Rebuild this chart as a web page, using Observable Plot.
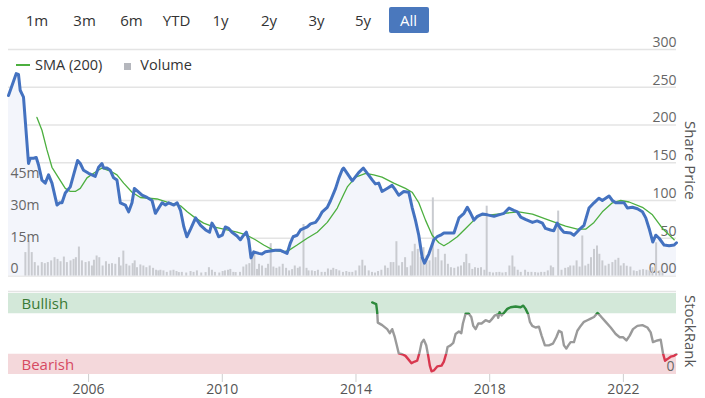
<!DOCTYPE html>
<html><head><meta charset="utf-8">
<script src="https://cdn.jsdelivr.net/npm/d3@7"></script>
<script src="https://cdn.jsdelivr.net/npm/@observablehq/plot@0.6"></script>
<style>
body{margin:0;background:#fff;font-family:"Open Sans",sans-serif;}
#wrap{position:relative;width:705px;height:398px;overflow:hidden;background:#fff;}
#wrap svg{position:absolute;left:0;top:0;}
.btn{position:absolute;top:7px;height:26px;line-height:26px;font-size:15px;color:#333;transform:translateX(-50%);text-align:center;white-space:nowrap;}
.btn.active{background:#4a78bd;color:#fff;border-radius:2px;width:40px;}
.leg{position:absolute;top:55px;font-size:14.5px;color:#333;white-space:nowrap;line-height:20px;}
.side{position:absolute;writing-mode:vertical-rl;font-size:15px;color:#555;white-space:nowrap;}
</style></head>
<body><div id="wrap"></div>
<script>
// ---- data ----
const rangeButtons = ["1m","3m","6m","YTD","1y","2y","3y","5y","All"];
const activeButton = "All";

const priceYear = [2003.605,2003.835,2003.904,2003.955,2004.054,2004.204,2004.254,2004.353,2004.434,2004.503,2004.605,2004.704,2004.802,2004.904,2005.054,2005.132,2005.204,2005.302,2005.452,2005.551,2005.671,2005.751,2005.850,2006.000,2006.200,2006.300,2006.400,2006.450,2006.550,2006.650,2006.750,2006.850,2006.950,2007.100,2007.200,2007.300,2007.370,2007.500,2007.600,2007.750,2007.900,2008.000,2008.100,2008.200,2008.300,2008.400,2008.550,2008.650,2008.750,2008.850,2008.940,2009.050,2009.200,2009.350,2009.500,2009.620,2009.690,2009.790,2009.890,2010.000,2010.090,2010.190,2010.290,2010.440,2010.540,2010.640,2010.720,2010.790,2010.860,2010.940,2011.090,2011.190,2011.290,2011.440,2011.590,2011.740,2011.840,2011.940,2012.040,2012.120,2012.240,2012.340,2012.440,2012.540,2012.640,2012.790,2012.890,2012.990,2013.140,2013.240,2013.390,2013.490,2013.590,2013.630,2013.890,2014.080,2014.220,2014.340,2014.490,2014.580,2014.680,2014.780,2014.930,2015.080,2015.180,2015.280,2015.430,2015.580,2015.680,2015.780,2015.880,2015.980,2016.050,2016.180,2016.330,2016.430,2016.530,2016.630,2016.930,2017.080,2017.230,2017.330,2017.430,2017.530,2017.630,2017.780,2017.930,2018.130,2018.270,2018.430,2018.580,2018.720,2018.830,2018.930,2019.070,2019.280,2019.420,2019.580,2019.670,2019.820,2019.920,2020.020,2020.120,2020.220,2020.420,2020.520,2020.670,2020.820,2020.970,2021.120,2021.270,2021.370,2021.470,2021.570,2021.670,2021.770,2021.920,2022.020,2022.120,2022.270,2022.420,2022.570,2022.670,2022.770,2022.880,2022.970,2023.070,2023.220,2023.370,2023.520,2023.590];
const priceValue = [239,268,267,246,237,149,156,156,157,147,127,123,134,123,94,97,97,110,118,134,153,149,140,136,132,144,149,143,143,140,130,127,97,94,85,97,116,111,107,104,100,83,90,97,94,97,94,97,87,65,52,62,77,67,61,58,70,63,52,54,65,63,58,53,48,54,58,48,24,32,30,29,32,33,34,34,32,30,44,52,54,61,63,65,69,71,77,85,91,100,116,130,141,143,126,137,143,136,127,122,123,112,116,120,114,107,112,111,91,74,54,25,17,29,48,52,54,57,57,77,83,91,83,74,79,82,81,79,81,83,90,87,85,78,75,71,73,70,63,61,60,70,63,58,57,54,61,67,90,97,103,100,103,106,100,97,97,97,90,91,89,85,77,63,45,54,50,41,40,41,44];

const smaYear = [2004.455,2004.605,2004.754,2004.904,2005.102,2005.302,2005.452,2005.602,2005.751,2005.952,2006.150,2006.400,2006.650,2006.850,2007.050,2007.300,2007.550,2007.800,2008.050,2008.350,2008.600,2008.750,2008.950,2009.190,2009.440,2009.740,2010.040,2010.440,2010.740,2010.990,2011.240,2011.540,2011.840,2011.990,2012.240,2012.540,2012.840,2013.140,2013.440,2013.630,2013.740,2013.990,2014.290,2014.530,2014.780,2015.130,2015.480,2015.680,2015.880,2016.080,2016.280,2016.480,2016.630,2016.780,2017.030,2017.280,2017.530,2017.730,2018.030,2018.430,2018.870,2019.280,2019.770,2020.270,2020.620,2020.870,2021.120,2021.370,2021.670,2021.920,2022.170,2022.570,2022.870,2023.170,2023.520];
const smaValue = [210,193,167,144,130,116,112,112,116,130,136,143,139,134,123,111,104,103,102,98,95,93,85,77,70,65,62,58,54,48,41,34,32,34,41,50,58,71,90,108,118,131,136,134,131,123,116,111,97,74,54,44,40,44,52,63,74,81,81,83,85,82,74,66,62,62,71,85,97,100,98,91,81,63,48];

const volumeYear = [2004.11,2004.21,2004.30,2004.39,2004.49,2004.60,2004.69,2004.78,2004.88,2004.98,2005.07,2005.16,2005.26,2005.35,2005.46,2005.55,2005.62,2005.71,2005.80,2005.91,2006.01,2006.10,2006.16,2006.24,2006.32,2006.42,2006.52,2006.61,2006.70,2006.80,2006.91,2006.96,2007.04,2007.13,2007.22,2007.32,2007.38,2007.45,2007.55,2007.64,2007.73,2007.83,2007.93,2008.02,2008.09,2008.15,2008.24,2008.34,2008.45,2008.54,2008.63,2008.70,2008.79,2008.92,2009.05,2009.14,2009.24,2009.37,2009.50,2009.60,2009.69,2009.78,2009.91,2010.01,2010.08,2010.17,2010.24,2010.33,2010.40,2010.53,2010.63,2010.72,2010.81,2010.89,2010.96,2011.04,2011.10,2011.19,2011.30,2011.37,2011.45,2011.53,2011.62,2011.71,2011.81,2011.91,2012.00,2012.09,2012.17,2012.26,2012.32,2012.43,2012.52,2012.58,2012.68,2012.77,2012.86,2012.97,2013.07,2013.16,2013.25,2013.32,2013.41,2013.50,2013.61,2013.71,2013.80,2013.89,2013.99,2014.10,2014.19,2014.27,2014.38,2014.48,2014.57,2014.66,2014.76,2014.87,2014.95,2015.04,2015.12,2015.21,2015.28,2015.38,2015.47,2015.53,2015.64,2015.69,2015.76,2015.85,2015.94,2016.02,2016.11,2016.20,2016.30,2016.38,2016.46,2016.56,2016.66,2016.75,2016.84,2016.94,2017.05,2017.14,2017.23,2017.30,2017.39,2017.48,2017.56,2017.65,2017.74,2017.84,2017.91,2018.00,2018.10,2018.20,2018.29,2018.38,2018.48,2018.59,2018.68,2018.74,2018.84,2018.93,2019.06,2019.15,2019.25,2019.36,2019.45,2019.54,2019.64,2019.74,2019.83,2019.90,2020.05,2020.15,2020.26,2020.35,2020.41,2020.51,2020.60,2020.69,2020.77,2020.86,2020.95,2021.03,2021.12,2021.21,2021.28,2021.37,2021.46,2021.56,2021.67,2021.76,2021.85,2021.92,2022.01,2022.10,2022.21,2022.31,2022.40,2022.49,2022.59,2022.69,2022.78,2022.87,2022.98,2023.08,2023.17];
const volumeM = [11.0,16.4,11.0,6.3,4.7,6.3,5.8,6.3,7.1,8.6,7.8,6.7,8.9,6.3,7.1,7.8,8.6,13.6,7.1,6.3,6.7,4.7,7.4,9.4,8.6,4.7,6.7,5.5,5.8,5.5,8.6,4.7,11.7,5.5,4.7,5.8,7.1,3.9,5.2,4.7,3.9,4.7,3.6,2.7,2.4,2.7,2.4,1.7,2.4,2.7,2.1,1.6,1.7,1.4,2.1,1.7,2.4,1.4,1.6,3.9,2.7,1.7,1.4,2.1,2.4,2.7,3.1,1.7,1.6,1.7,4.2,5.2,5.8,8.6,10.2,3.1,5.5,4.7,3.6,5.5,15.2,4.2,3.6,4.2,5.5,3.6,2.4,3.0,4.7,3.6,4.2,24.2,3.6,2.4,2.4,2.1,2.7,1.7,1.7,3.3,2.7,3.6,3.0,2.4,1.7,2.1,1.7,1.7,2.4,4.7,7.4,4.7,2.4,1.7,1.4,2.1,2.7,4.7,3.6,6.3,6.3,16.1,4.7,6.3,8.6,3.9,4.7,11.4,14.9,12.5,8.6,13.3,9.4,7.1,36.7,8.6,12.5,7.1,10.2,5.5,3.9,3.6,4.2,4.7,6.3,10.2,5.8,3.1,3.9,3.6,3.9,2.7,32.8,1.7,1.4,1.6,1.7,1.4,1.6,4.7,9.4,4.2,2.7,1.7,2.7,1.7,1.7,1.6,1.4,1.7,1.7,2.4,4.7,3.9,30.5,2.7,3.6,3.9,4.7,4.7,7.1,4.2,18.8,4.7,5.5,8.6,12.5,14.1,10.2,7.1,4.7,5.5,6.3,7.4,8.3,4.7,5.8,4.6,4.2,2.4,2.1,2.7,3.0,2.7,2.4,3.9,15.6,2.4,1.6];

const rankYear = [2014.485,2014.605,2014.635,2014.653,2014.784,2014.934,2015.012,2015.084,2015.162,2015.234,2015.281,2015.383,2015.482,2015.563,2015.662,2015.760,2015.832,2015.901,2015.961,2016.030,2016.102,2016.162,2016.210,2016.260,2016.329,2016.431,2016.560,2016.629,2016.701,2016.740,2016.829,2016.910,2016.979,2017.078,2017.150,2017.198,2017.278,2017.377,2017.449,2017.509,2017.578,2017.659,2017.757,2017.877,2017.997,2018.078,2018.156,2018.228,2018.257,2018.296,2018.356,2018.425,2018.527,2018.626,2018.776,2018.925,2019.006,2019.075,2019.156,2019.204,2019.275,2019.374,2019.473,2019.554,2019.653,2019.772,2019.892,2019.994,2020.072,2020.153,2020.222,2020.293,2020.353,2020.422,2020.521,2020.623,2020.722,2020.820,2020.922,2021.021,2021.120,2021.222,2021.320,2021.470,2021.620,2021.770,2021.889,2021.988,2022.090,2022.189,2022.287,2022.419,2022.569,2022.719,2022.817,2022.886,2023.018,2023.117,2023.186,2023.246,2023.317,2023.416,2023.515,2023.587];
const rankValue = [89,87,77,64,61,56,51,56,46,34,26,25,23,19,14,16,17,27,39,43,36,23,11,4,5,10,11,16,26,34,36,39,50,53,51,63,75,75,71,60,56,63,63,67,65,69,73,74,70,77,73,76,81,83,84,83,85,81,74,65,60,58,59,48,36,36,38,46,54,52,36,32,36,40,40,54,60,65,67,69,71,76,72,65,58,50,46,46,42,48,56,60,61,58,52,40,42,43,26,17,19,22,23,25];

const priceTicks = [0,50,100,150,200,250,300];
const priceTickLabels = ["0.00","50","100","150","200","250","300"];
const volumeTicks = [0,15,30,45];
const volumeTickLabels = ["0","15m","30m","45m"];
const rankBandLow = [0,75];
const rankBandHigh = [25,100];
const rankBandName = ["Bearish","Bullish"];
const yearTicks = [2006,2010,2014,2018,2022];

// ---- helpers ----
const toDate = y => { const yr = Math.floor(y); const s = Date.UTC(yr,0,1), e = Date.UTC(yr+1,0,1); return new Date(s + (y-yr)*(e-s)); };
const price = priceYear.map((y,i) => ({date: toDate(y), v: priceValue[i]}));
const sma = smaYear.map((y,i) => ({date: toDate(y), v: smaValue[i]}));
const volume = volumeYear.map((y,i) => ({date: toDate(y), v: volumeM[i]}));
const rank = rankYear.map((y,i) => ({date: toDate(y), v: rankValue[i]}));
const bands = rankBandName.map((n,i) => ({name: n, lo: rankBandLow[i], hi: rankBandHigh[i]}));
const xDomain = d3.extent(price, d => d.date);

const FONT = "'Open Sans', sans-serif";
const W = 705, H = 398;
const mainM = {marginLeft: 8, marginRight: 29, marginTop: 49, marginBottom: 122.5};
const baseStyle = {fontFamily: FONT, fontSize: "14px", background: "transparent", overflow: "visible"};

const priceBg = Plot.plot({
  width: W, height: H, ...mainM, style: baseStyle,
  x: {type: "utc", domain: xDomain, axis: null},
  y: {domain: [0,300], axis: null},
  marks: [
    Plot.ruleY(priceTicks, {stroke: "#e4e4e4", strokeWidth: 1.5}),
    Plot.areaY(price, {x: "date", y: "v", fill: "#f3f5fb"}),
    Plot.text(priceTicks, {y: d => d, text: (d,i) => priceTickLabels[i], frameAnchor: "right", textAnchor: "end", dy: -7, fill: "#666", fontSize: 14})
  ]
});

const volPlot = Plot.plot({
  width: W, height: H, ...mainM, style: baseStyle,
  x: {type: "utc", domain: xDomain, axis: null},
  y: {domain: [0,106.4], axis: null},
  marks: [
    Plot.ruleX(volume, {x: "date", y1: 0, y2: "v", stroke: "#c9cbd0", strokeWidth: 2}),
    Plot.text(volumeTicks, {y: d => d, text: (d,i) => volumeTickLabels[i], frameAnchor: "left", textAnchor: "start", dx: 2, dy: -7, fill: "#666", fontSize: 14})
  ]
});

const linePlot = Plot.plot({
  width: W, height: H, ...mainM, style: baseStyle,
  x: {type: "utc", domain: xDomain, axis: null},
  y: {domain: [0,300], axis: null},
  marks: [
    Plot.line(sma, {x: "date", y: "v", stroke: "#4caf3f", strokeWidth: 1.3}),
    Plot.line(price, {x: "date", y: "v", stroke: "#4472c0", strokeWidth: 3, strokeLinejoin: "round"})
  ]
});

function rankGradient(index, scales) {
  const ns = "http://www.w3.org/2000/svg";
  const defs = document.createElementNS(ns, "defs");
  const g = document.createElementNS(ns, "linearGradient");
  g.setAttribute("id", "rankGrad");
  g.setAttribute("gradientUnits", "userSpaceOnUse");
  const yTop = scales.y(100), yBot = scales.y(0);
  g.setAttribute("x1", 0); g.setAttribute("x2", 0);
  g.setAttribute("y1", yTop); g.setAttribute("y2", yBot);
  const oHi = (scales.y(rankBandLow[1]) - yTop) / (yBot - yTop);
  const oLo = (scales.y(rankBandHigh[0]) - yTop) / (yBot - yTop);
  [[0,"#2d8a3c"],[oHi,"#2d8a3c"],[oHi,"#9a9a9a"],[oLo,"#9a9a9a"],[oLo,"#d8374e"],[1,"#d8374e"]].forEach(([o,c]) => {
    const s = document.createElementNS(ns, "stop");
    s.setAttribute("offset", o); s.setAttribute("stop-color", c);
    g.appendChild(s);
  });
  defs.appendChild(g);
  return defs;
}

const rankPlot = Plot.plot({
  width: W, height: H, marginLeft: 8, marginRight: 29, marginTop: 293, marginBottom: 24,
  style: baseStyle,
  x: {type: "utc", domain: xDomain},
  y: {domain: [0,100], axis: null},
  marks: [
    Plot.ruleY([100], {dy: -2, stroke: "#e4e4e4", strokeWidth: 1.5}),
    Plot.rect(bands, {y1: "lo", y2: "hi", fill: d => d.name, fillOpacity: 1}),
    Plot.text(bands, {y: d => (d.lo + d.hi) / 2, text: "name", frameAnchor: "left", textAnchor: "start", dx: 13, dy: 1, fill: d => d.name === "Bullish" ? "#3a7a35" : "#d64a62", fontSize: 15}),
    Plot.text([0], {y: d => d, text: d => String(d), frameAnchor: "right", textAnchor: "end", dx: -2, dy: -8, fill: "#666", fontSize: 14}),
    rankGradient,
    Plot.line(rank, {x: "date", y: "v", stroke: "url(#rankGrad)", strokeWidth: 2.4, strokeLinejoin: "round"}),
    Plot.axisX({ticks: yearTicks.map(y => toDate(y)), tickFormat: "%Y", tickSize: 8, tickPadding: 1.5, stroke: "#cfcfcf", fill: "#555", fontSize: 14, label: null})
  ],
  color: {domain: ["Bearish","Bullish"], range: ["#f4d8db","#d3e8d9"]}
});

const wrap = document.getElementById("wrap");
[priceBg, volPlot, linePlot, rankPlot].forEach(p => wrap.appendChild(p));

// buttons
const btnX = [37,84.6,131.5,176.6,220.6,269,316.5,363,408.5];
rangeButtons.forEach((b,i) => {
  const d = document.createElement("div");
  d.className = "btn" + (b === activeButton ? " active" : "");
  d.style.left = btnX[i] + "px";
  d.textContent = b;
  wrap.appendChild(d);
});
// legend
const leg = document.createElement("div");
leg.className = "leg"; leg.style.left = "16px";
leg.innerHTML = '<span style="display:inline-block;width:14px;height:2px;background:#4caf3f;vertical-align:middle;margin-right:5px;position:relative;top:-1px"></span>SMA (200)<span style="display:inline-block;width:7px;height:7px;background:#b5b7bd;margin:0 9px 0 22px;vertical-align:middle"></span>Volume';
wrap.appendChild(leg);
// side titles
const s1 = document.createElement("div"); s1.className = "side"; s1.textContent = "Share Price";
s1.style.left = "681px"; s1.style.top = "121px"; wrap.appendChild(s1);
const s2 = document.createElement("div"); s2.className = "side"; s2.textContent = "StockRank";
s2.style.left = "681px"; s2.style.top = "295px"; wrap.appendChild(s2);
</script></body></html>
